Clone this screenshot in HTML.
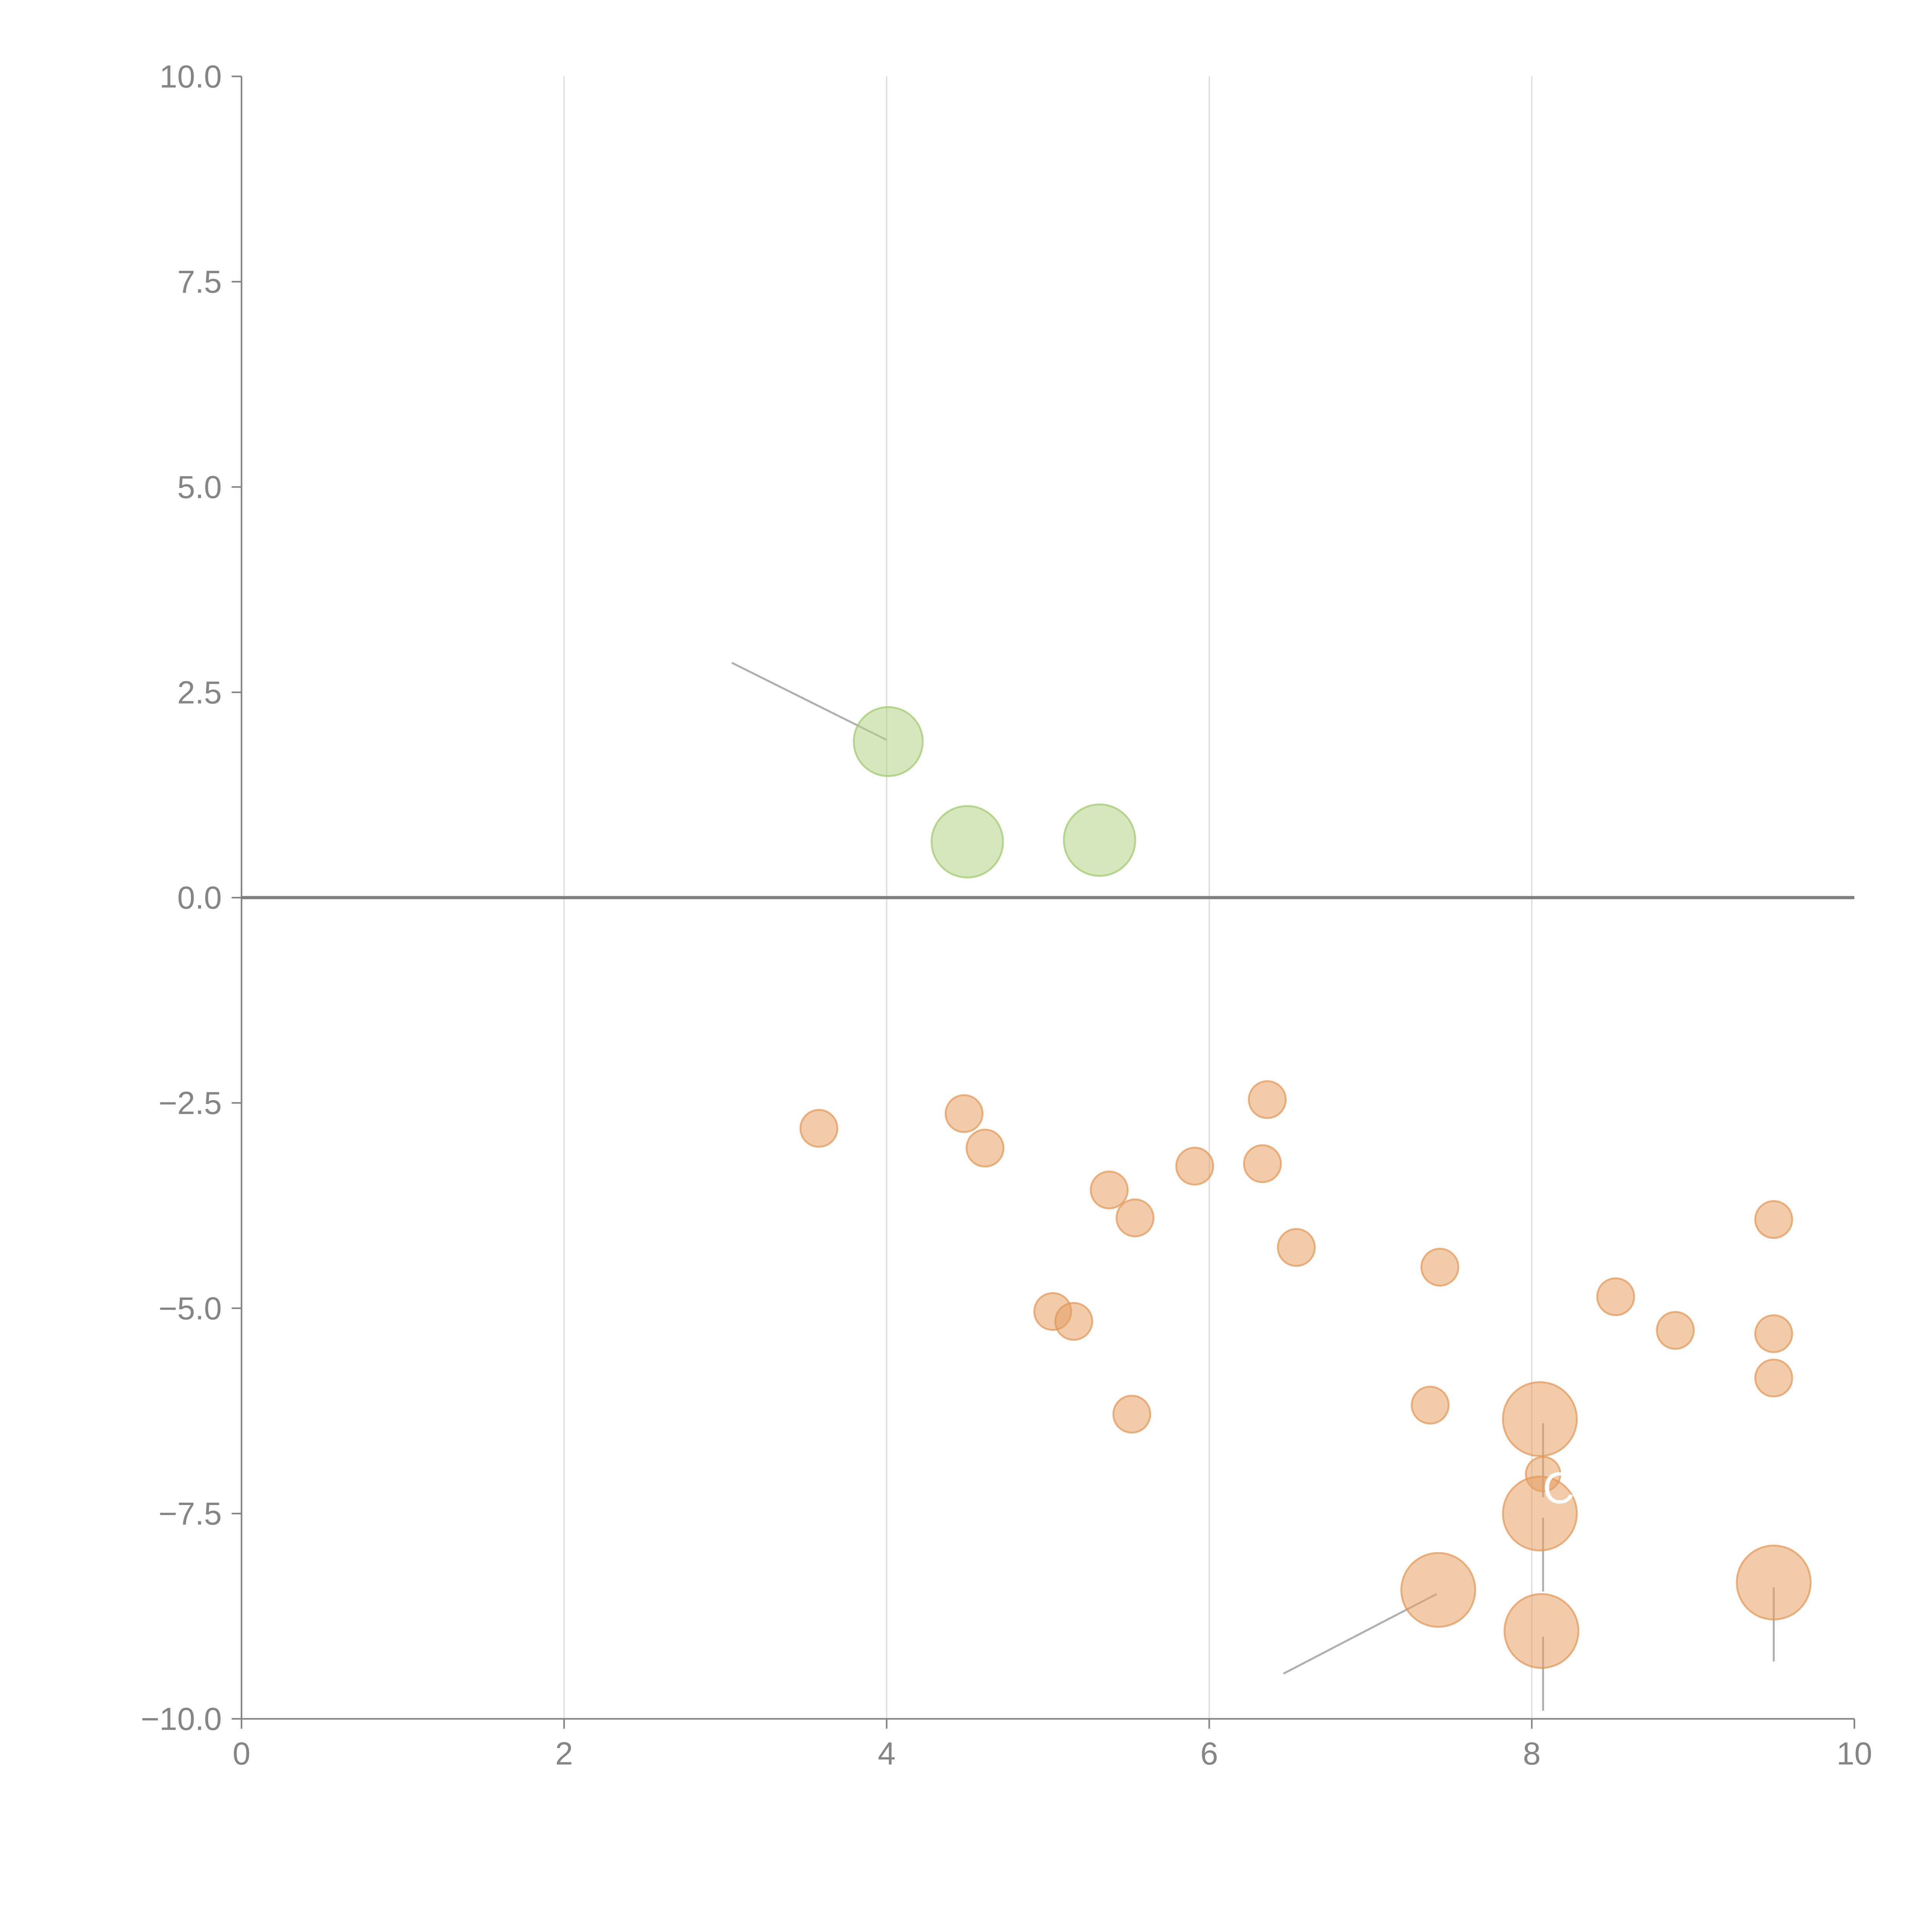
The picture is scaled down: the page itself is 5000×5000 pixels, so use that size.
<!DOCTYPE html>
<html><head><meta charset="utf-8"><style>
html,body{margin:0;padding:0;background:#fff}
svg{display:block}
text{font-family:"Liberation Sans",sans-serif;fill:#858585;font-size:26px}
</style></head><body>
<svg id="chart" width="5000" height="5000" viewBox="0 0 1568 1568" xmlns="http://www.w3.org/2000/svg">
<g id="grid"></g>
<g id="axes"></g>
<g id="leaders"></g>
<g id="marks"></g>
</svg>
<script>
const xTicks=[0,2,4,6,8,10];
const yTicks=[10,7.5,5,2.5,0,-2.5,-5,-7.5,-10];
const yTickLabels=["10.0","7.5","5.0","2.5","0.0","\u22122.5","\u22125.0","\u22127.5","\u221210.0"];
const greenX=[4.01,4.5,5.32];
const greenY=[1.9,0.68,0.70];
const greenSize=[28,29,29];
const orangeX=[3.58,4.48,4.61,5.38,5.54,5.91,6.33,6.36,6.54,7.43,5.03,5.16,5.52,7.37,8.52,8.89,9.5,9.5,9.5,8.07,8.05,8.05,7.42,8.06,9.5];
const orangeY=[-2.81,-2.63,-3.05,-3.56,-3.90,-3.27,-3.24,-2.46,-4.26,-4.50,-5.04,-5.16,-6.29,-6.18,-4.86,-5.27,-3.92,-5.31,-5.85,-7.02,-6.35,-7.50,-8.43,-8.93,-8.34];
const orangeSize=[15,15,15,15,15,15,15,15,15,15,15,15,15,15,15,15,15,15,15,14,30,30,30,30,30];
const leaderX1=[3.04,6.46,8.07,8.07,8.07,9.5];
const leaderY1=[2.86,-9.45,-6.4,-7.55,-9.0,-8.4];
const leaderX2=[4.0,7.41,8.07,8.07,8.07,9.5];
const leaderY2=[1.92,-8.48,-7.3,-8.45,-9.9,-9.3];

const X0=196,X1=1505,Y0=1395,Y1=62;
const xs=v=>X0+(v-0)/(10-0)*(X1-X0);
const ys=v=>Y0-(v+10)/20*(Y0-Y1);
const NS="http://www.w3.org/2000/svg";
function mk(tag,attrs,parent){const e=document.createElementNS(NS,tag);for(const k in attrs)e.setAttribute(k,attrs[k]);parent.appendChild(e);return e;}
const grid=document.getElementById('grid'),axes=document.getElementById('axes'),leaders=document.getElementById('leaders'),marks=document.getElementById('marks');

xTicks.forEach(t=>{
  if(t>0&&t<10){const l=mk('line',{x1:xs(t),x2:xs(t),y1:Y1,y2:Y0,stroke:'#dcdcdc','stroke-width':1},grid);
  
  }
  const tk=mk('line',{x1:xs(t),x2:xs(t),y1:Y0,y2:Y0+8,stroke:'#858585','stroke-width':1.3},axes);
  
  
  const tx=mk('text',{x:xs(t),y:Y0+37,'text-anchor':'middle'},axes);tx.textContent=String(t);
  
  
});
yTicks.forEach((t,i)=>{
  const tk=mk('line',{x1:X0-8,x2:X0,y1:ys(t),y2:ys(t),stroke:'#858585','stroke-width':1.3},axes);
  
  
  const tx=mk('text',{x:X0-16,y:ys(t)+9,'text-anchor':'end'},axes);tx.textContent=yTickLabels[i];
  
  
});
let a=mk('line',{x1:X0,x2:X0,y1:Y1,y2:Y0,stroke:'#858585','stroke-width':1.3},axes);


a=mk('line',{x1:X0,x2:X1,y1:Y0,y2:Y0,stroke:'#858585','stroke-width':1.3},axes);


a=mk('line',{x1:X0,x2:X1,y1:ys(0),y2:ys(0),stroke:'#808080','stroke-width':2.6},axes);



leaderX1.forEach((v,i)=>{
  const l=mk('line',{x1:xs(v),y1:ys(leaderY1[i]),x2:xs(leaderX2[i]),y2:ys(leaderY2[i]),stroke:'#b0b0b0','stroke-width':1.6},leaders);
  
  
});
greenX.forEach((v,i)=>{
  const c=mk('circle',{cx:xs(v),cy:ys(greenY[i]),r:greenSize[i],fill:'rgba(180,210,135,0.55)',stroke:'rgba(160,200,110,0.7)','stroke-width':1.5},marks);
  
  
});
orangeX.forEach((v,i)=>{
  const c=mk('circle',{cx:xs(v),cy:ys(orangeY[i]),r:orangeSize[i],fill:'rgba(230,160,100,0.55)',stroke:'rgba(225,150,85,0.7)','stroke-width':1.5},marks);
  
  
});
const lab=mk('text',{x:1252,y:1220,style:'fill:#fff;font-size:36px'},marks);lab.textContent='C';


</script>
</body></html>
